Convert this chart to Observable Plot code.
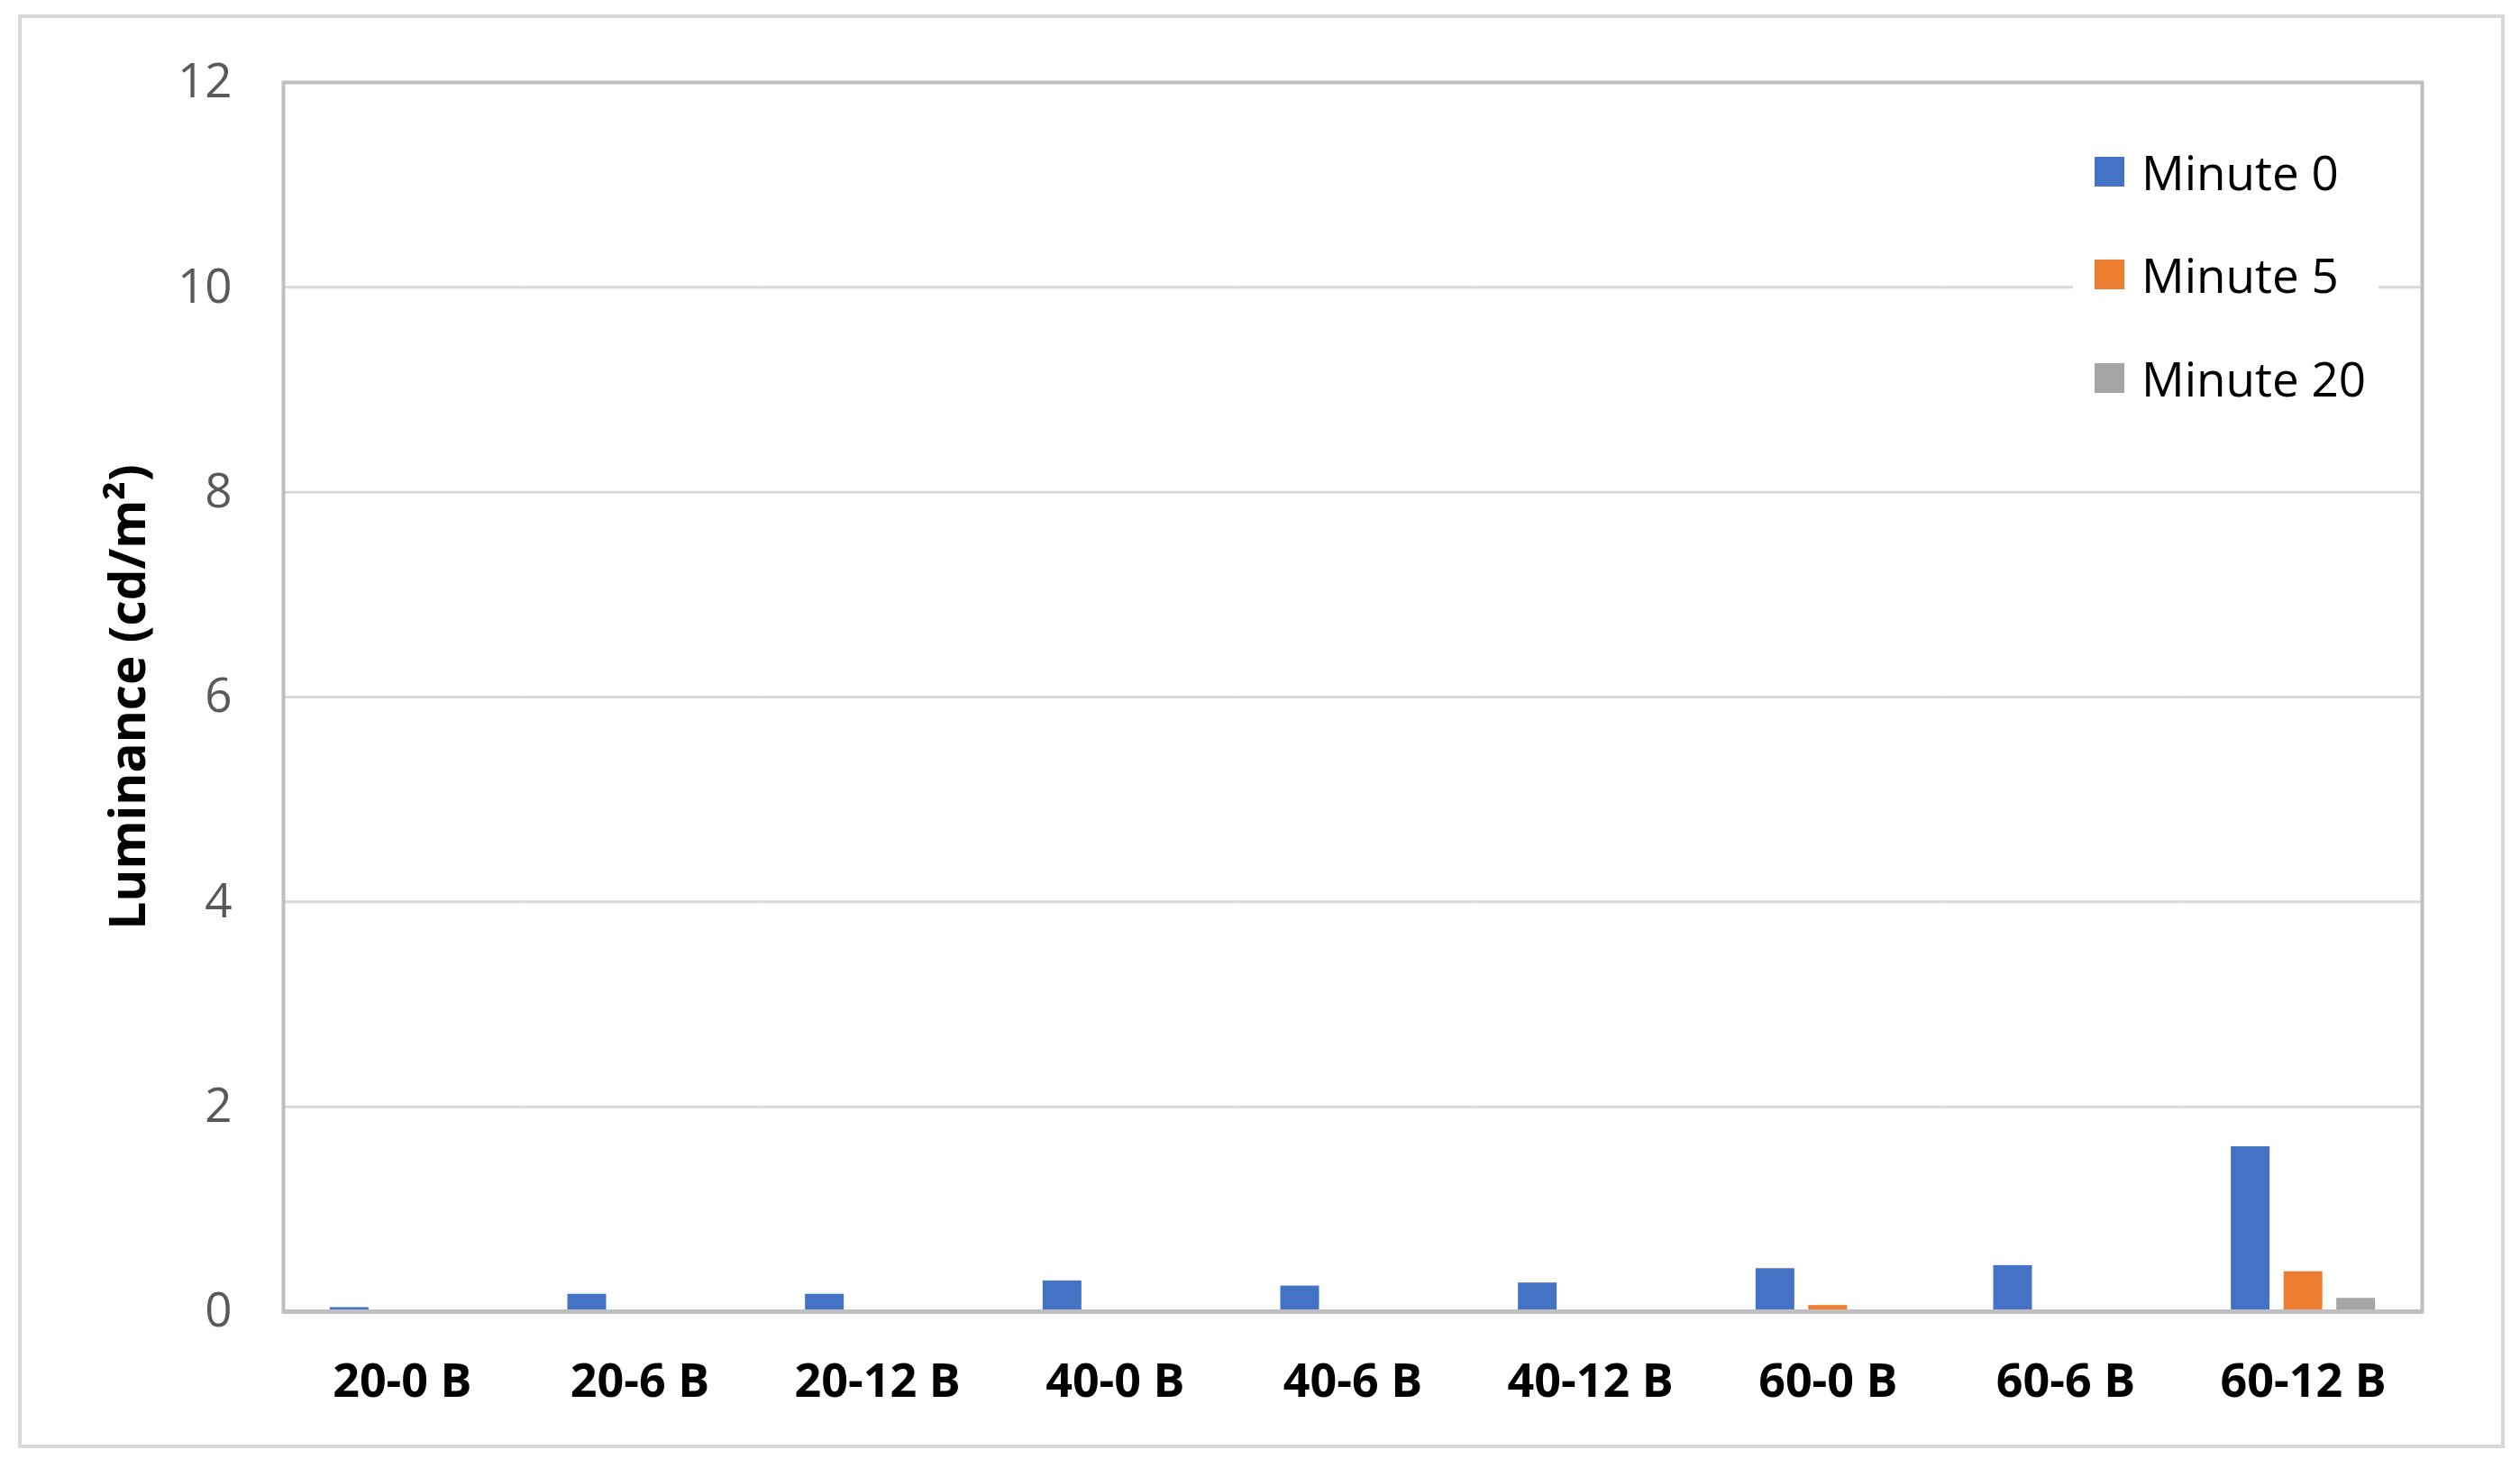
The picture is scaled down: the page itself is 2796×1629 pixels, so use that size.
<!DOCTYPE html>
<html>
<head>
<meta charset="utf-8">
<script src="https://cdn.jsdelivr.net/npm/d3@7"></script>
<script src="https://cdn.jsdelivr.net/npm/@observablehq/plot@0.6"></script>
<style>
  html, body { margin: 0; padding: 0; background: #fff; overflow: hidden; }
  #wrap { position: relative; width: 2796px; height: 1629px; font-family: "Open Sans", sans-serif; }
  #border { position: absolute; left: 20px; top: 16px; width: 2751px; height: 1583px; border: 4px solid #d9d9d9; pointer-events: none; }
  #legend { position: absolute; left: 2300px; top: 133px; width: 339px; box-sizing: border-box; padding-left: 24px; background: #fff; }
  #legend .lg-swatches { margin: 0 !important; font-family: "Open Sans", sans-serif !important; font-size: 53px !important; color: #000 !important; }
  #legend .lg-swatch { height: 114.5px !important; margin: 0 !important; padding: 0 !important; display: flex !important; align-items: center !important; }
  #legend .lg-swatch svg { margin-right: 19px !important; }
  #legend .lg-label { max-width: none !important; overflow: visible !important; }
</style>
</head>
<body>
<div id="wrap"></div>
<script>
// ---- data ----
const categories = ["20-0 B", "20-6 B", "20-12 B", "40-0 B", "40-6 B", "40-12 B", "60-0 B", "60-6 B", "60-12 B"];
const seriesNames = ["Minute 0", "Minute 5", "Minute 20"];
const minute0 = [0.04, 0.17, 0.17, 0.30, 0.25, 0.28, 0.42, 0.45, 1.61];
const minute5 = [0, 0, 0, 0, 0, 0, 0.06, 0, 0.39];
const minute20 = [0, 0, 0, 0, 0, 0, 0, 0, 0.13];
const yTicks = [0, 2, 4, 6, 8, 10, 12];
const colors = ["#4472C4", "#ED7D31", "#A5A5A5"];
const yTitle = "Luminance (cd/m²)";

const seriesValues = [minute0, minute5, minute20];
const table = categories.flatMap((c, i) =>
  seriesNames.map((s, k) => ({category: c, series: s, value: seriesValues[k][i]}))
);

const chart = Plot.plot({
  width: 2796,
  height: 1629,
  marginLeft: 314,
  marginRight: 109,
  marginTop: 91,
  marginBottom: 174,
  style: {fontFamily: "Open Sans, sans-serif", background: "transparent"},
  fx: {domain: categories, padding: 0, round: false, label: null},
  x: {domain: seriesNames, paddingInner: 0.265, paddingOuter: 0.886, round: false, axis: null},
  y: {domain: [0, 12], label: null},
  color: {domain: seriesNames, range: colors},
  marks: [
    Plot.gridY(yTicks, {stroke: "#d9d9d9", strokeOpacity: 1, strokeWidth: 3}),
    Plot.barY(table, {fx: "category", x: "series", y: "value", fill: "series"}),
    Plot.ruleY([0], {stroke: "#bfbfbf", strokeWidth: 5}),
    Plot.frame({facet: "super", stroke: "#bfbfbf", strokeWidth: 4}),
    Plot.axisY(yTicks, {tickSize: 0, tickPadding: 57, fontSize: 53, fill: "#595959", tickFormat: d => String(d), label: null}),
    Plot.axisFx({anchor: "bottom", tickSize: 0, tickPadding: 58, fontSize: 52, fontWeight: "bold", fill: "#000", label: null}),
    Plot.text([yTitle], {facet: "super", frameAnchor: "left", textAnchor: "middle", lineAnchor: "middle", dx: -171, rotate: -90, fontSize: 55, fontWeight: "bold", fill: "#000"})
  ]
});

const wrap = document.getElementById("wrap");
wrap.appendChild(chart);

const border = document.createElement("div");
border.id = "border";
wrap.appendChild(border);

const legendBox = document.createElement("div");
legendBox.id = "legend";
legendBox.appendChild(Plot.legend({
  color: {domain: seriesNames, range: colors},
  legend: "swatches",
  columns: 1,
  swatchSize: 33,
  className: "lg"
}));
wrap.appendChild(legendBox);
</script>
</body>
</html>
